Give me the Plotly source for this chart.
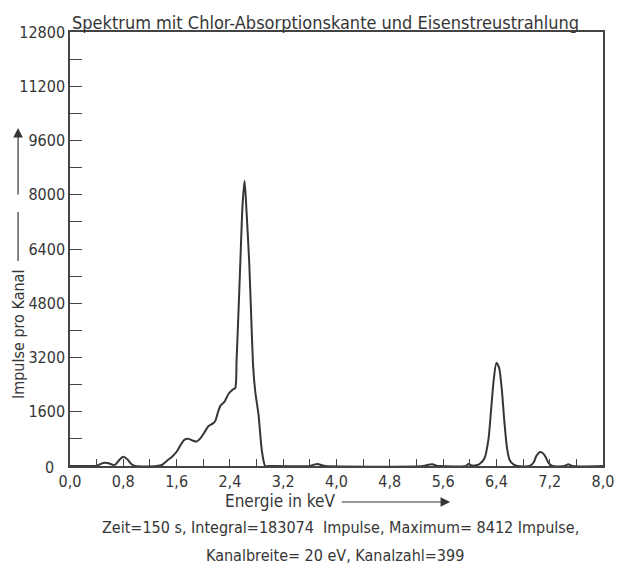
import plotly.graph_objects as go

# Spectrum read channel by channel (energy in keV, counts per channel)
energie_kev = [
    0.00, 0.30, 0.40, 0.46, 0.52, 0.58, 0.64, 0.68, 0.74, 0.80, 0.86, 0.92, 0.98,
    1.30, 1.38, 1.46, 1.54, 1.60, 1.66, 1.72, 1.78, 1.84, 1.90, 1.96, 2.02, 2.08,
    2.14, 2.18, 2.22, 2.26, 2.32, 2.38, 2.44, 2.48, 2.50, 2.53, 2.56, 2.59, 2.62,
    2.65, 2.69, 2.72, 2.75, 2.78, 2.83, 2.88, 2.93, 2.98,
    3.60, 3.66, 3.72, 3.78, 3.84,
    5.30, 5.38, 5.44, 5.50, 5.56,
    5.94, 5.98, 6.02, 6.10, 6.16, 6.22, 6.28, 6.32, 6.36, 6.40, 6.44, 6.48, 6.52,
    6.56, 6.60, 6.66, 6.72,
    6.90, 6.96, 7.00, 7.06, 7.12, 7.18, 7.24,
    7.42, 7.48, 7.54, 8.00,
]
impulse = [
    0, 0, 10, 60, 95, 80, 35, 40, 180, 270, 200, 60, 0,
    0, 30, 160, 290, 420, 620, 780, 800, 750, 720, 820, 1000, 1180,
    1250, 1330, 1580, 1780, 1900, 2130, 2250, 2300, 3100, 4600, 6200, 7700, 8412,
    7500, 6000, 4400, 2900, 2200, 1500, 450, 0, 0,
    0, 40, 60, 20, 0,
    0, 40, 50, 10, 0,
    0, 60, 20, 20, 80, 220, 780, 1650, 2550, 3040, 2900, 2280, 1300,
    520, 170, 40, 0,
    0, 110, 300, 410, 330, 100, 0,
    0, 50, 0, 0,
]

x_tick_vals = [0.0, 0.8, 1.6, 2.4, 3.2, 4.0, 4.8, 5.6, 6.4, 7.2, 8.0]
x_tick_text = ["0,0", "0,8", "1,6", "2,4", "3,2", "4,0", "4,8", "5,6", "6,4", "7,2", "8,0"]
y_tick_vals = [0, 1600, 3200, 4800, 6400, 8000, 9600, 11200, 12800]
y_tick_text = ["", "1600", "3200", "4800", "6400", "8000", "9600", "11200", "12800"]

messzeit_s = 150
integral = 183074
kanalbreite_ev = 20
kanalzahl = 399

W, H = 625, 564
L, R, T, B = 70, 11, 32, 98
INK = "#363636"
FONT = "DejaVu Sans Condensed, Liberation Sans Narrow, DejaVu Sans, sans-serif"


def px(x):
    return (x - L) / (W - L - R)


def py(y):
    return (H - B - y) / (H - T - B)


fig = go.Figure(
    go.Scatter(
        x=energie_kev,
        y=impulse,
        mode="lines",
        line=dict(color=INK, width=2, shape="spline", smoothing=0.7),
        hoverinfo="x+y",
    )
)

axis_common = dict(
    showline=True,
    mirror=True,
    linecolor="#444444",
    linewidth=1.5,
    showgrid=False,
    zeroline=False,
    ticks="inside",
    tickcolor="#444444",
    tickwidth=1.2,
    tickfont=dict(family=FONT, size=16, color=INK),
)

fig.update_xaxes(
    range=[0, 8],
    tickmode="array",
    tickvals=x_tick_vals,
    ticktext=x_tick_text,
    ticklen=7,
    minor=dict(dtick=0.4, ticks="inside", ticklen=7, tickcolor="#444444", tickwidth=1.2),
    **axis_common,
)
fig.update_yaxes(
    range=[0, 12800],
    tickmode="array",
    tickvals=y_tick_vals,
    ticktext=y_tick_text,
    ticklen=12,
    minor=dict(dtick=800, ticks="inside", ticklen=12, tickcolor="#444444", tickwidth=1.2),
    **axis_common,
)

txt = dict(family=FONT, size=16, color=INK)
annotations = [
    dict(text="Spektrum mit Chlor-Absorptionskante und Eisenstreustrahlung",
         x=0, y=1, xanchor="left", yanchor="middle", xshift=0, yshift=10,
         font=dict(family=FONT, size=18, color=INK)),
    dict(text="0", x=0, y=0, xanchor="right", yanchor="middle", xshift=-14, yshift=-1,
         font=txt),
    dict(text="Energie in keV", x=px(284), y=0, xanchor="center", yanchor="middle",
         yshift=-35, font=dict(family=FONT, size=17, color=INK)),
    dict(text=f"Zeit={messzeit_s} s, Integral={integral}  Impulse, "
              f"Maximum= {max(impulse)} Impulse,",
         x=px(346), y=0, xanchor="center", yanchor="middle", yshift=-61, font=txt),
    dict(text=f"Kanalbreite= {kanalbreite_ev} eV, Kanalzahl={kanalzahl}",
         x=px(340), y=0, xanchor="center", yanchor="middle", yshift=-89, font=txt),
    dict(text="Impulse pro Kanal", x=px(18), y=py(335), xanchor="center",
         yanchor="middle", textangle=-90, font=txt),
    # arrow after the energy label
    dict(text="", x=px(458), y=py(502), ax=-110, ay=0, showarrow=True,
         arrowhead=2, arrowsize=1.6, arrowwidth=1.2, arrowcolor=INK),
    # arrow above the counts label
    dict(text="", x=px(17), y=py(128), ax=0, ay=68, showarrow=True,
         arrowhead=2, arrowsize=1.6, arrowwidth=1.2, arrowcolor=INK),
]
for a in annotations:
    a.setdefault("xref", "paper")
    a.setdefault("yref", "paper")
    a.setdefault("showarrow", False)

fig.update_layout(
    width=W,
    height=H,
    margin=dict(l=L, r=R, t=T, b=B),
    paper_bgcolor="white",
    plot_bgcolor="white",
    showlegend=False,
    annotations=annotations,
    shapes=[
        # dash following the counts label
        dict(type="line", xref="paper", yref="paper",
             x0=px(17), x1=px(17), y0=py(261), y1=py(212),
             line=dict(color=INK, width=1.2)),
    ],
)

fig.write_html("out.html")
